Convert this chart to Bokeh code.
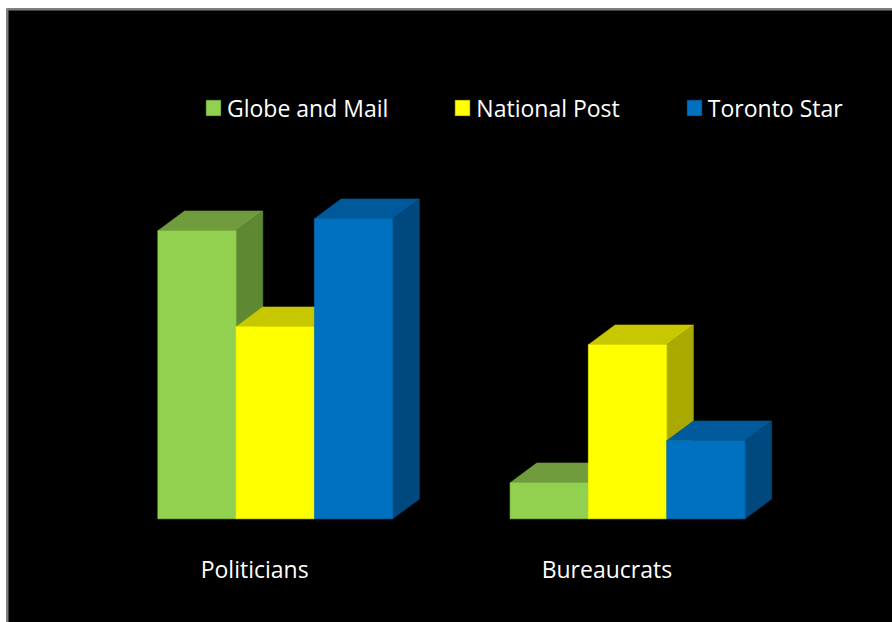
from bokeh.plotting import figure
from bokeh.models import Range1d, Legend, LegendItem, ColumnDataSource, BoxAnnotation
from bokeh.core.properties import value
from bokeh.embed import file_html
from bokeh.resources import INLINE

# ---- data ----
categories = ["Politicians", "Bureaucrats"]
series_names = ["Globe and Mail", "National Post", "Toronto Star"]
globe_and_mail = [48, 6]
national_post = [32, 29]
toronto_star = [50, 13]
series_values = [globe_and_mail, national_post, toronto_star]

# ---- styles ----
front_colors = ["#92D050", "#FFFF00", "#0070C0"]
top_colors = ["#719C3D", "#C8C800", "#00599A"]
side_colors = ["#5F8833", "#A9A900", "#00497F"]
FONT = "Open Sans"
FONT_SIZE = "23px"
BAR_W = 2 / 9      # bar width in group units
DX = 0.0758        # 3D depth offset (x, group units)
DY = 3.3           # 3D depth offset (y, value units)
X_MIN, X_MAX = -0.76292, 1.75220
Y_MIN, Y_MAX = -17.283, 85.05

p = figure(width=892, height=622,
           x_range=Range1d(X_MIN, X_MAX), y_range=Range1d(Y_MIN, Y_MAX),
           output_backend="svg", toolbar_location=None,
           x_axis_location=None, y_axis_location=None,
           min_border_left=6, min_border_top=8, min_border_right=0, min_border_bottom=0,
           border_fill_color="white", background_fill_color="black",
           outline_line_color=None)
p.grid.visible = False

# slide frame edges (grey)
p.add_layout(BoxAnnotation(bottom=84.717, fill_color="#7F7F7F", fill_alpha=1,
                           line_color=None, level="underlay"))
p.add_layout(BoxAnnotation(right=-0.75716, fill_color="#7F7F7F", fill_alpha=1,
                           line_color=None, level="underlay"))

legend_items = []
for i, (name, vals) in enumerate(zip(series_names, series_values)):
    x0 = [g + (i - 1.5) * BAR_W for g in range(len(categories))]
    x1 = [a + BAR_W for a in x0]
    top_xs = [[a, b, b + DX, a + DX] for a, b in zip(x0, x1)]
    top_ys = [[h, h, h + DY, h + DY] for h in vals]
    side_xs = [[b, b + DX, b + DX, b] for b in x1]
    side_ys = [[0, DY, h + DY, h] for h in vals]
    p.patches(xs=top_xs, ys=top_ys, fill_color=top_colors[i],
              line_color=top_colors[i], line_width=0.6)
    p.patches(xs=side_xs, ys=side_ys, fill_color=side_colors[i],
              line_color=side_colors[i], line_width=0.6)
    src = ColumnDataSource(dict(left=x0, right=x1, top=vals, bottom=[0] * len(vals)))
    r = p.quad(left="left", right="right", top="top", bottom="bottom", source=src,
               fill_color=front_colors[i], line_color=front_colors[i], line_width=0.6)
    legend_items.append(LegendItem(label=name, renderers=[r]))

p.text(x=[g - 0.0585 for g in range(len(categories))], y=[-8.33] * len(categories),
       text=categories, text_align="center", text_baseline="alphabetic",
       text_font=value(FONT), text_font_size=FONT_SIZE, text_color="white")

legend = Legend(items=legend_items, orientation="horizontal", location=(198, 498.5),
                spacing=65, label_standoff=5, glyph_width=18, glyph_height=19,
                padding=0, margin=0, border_line_color=None, background_fill_alpha=0,
                label_text_color="white", label_text_font=FONT,
                label_text_font_size=FONT_SIZE)
p.add_layout(legend)

open("out.html", "w").write(file_html(p, INLINE))
